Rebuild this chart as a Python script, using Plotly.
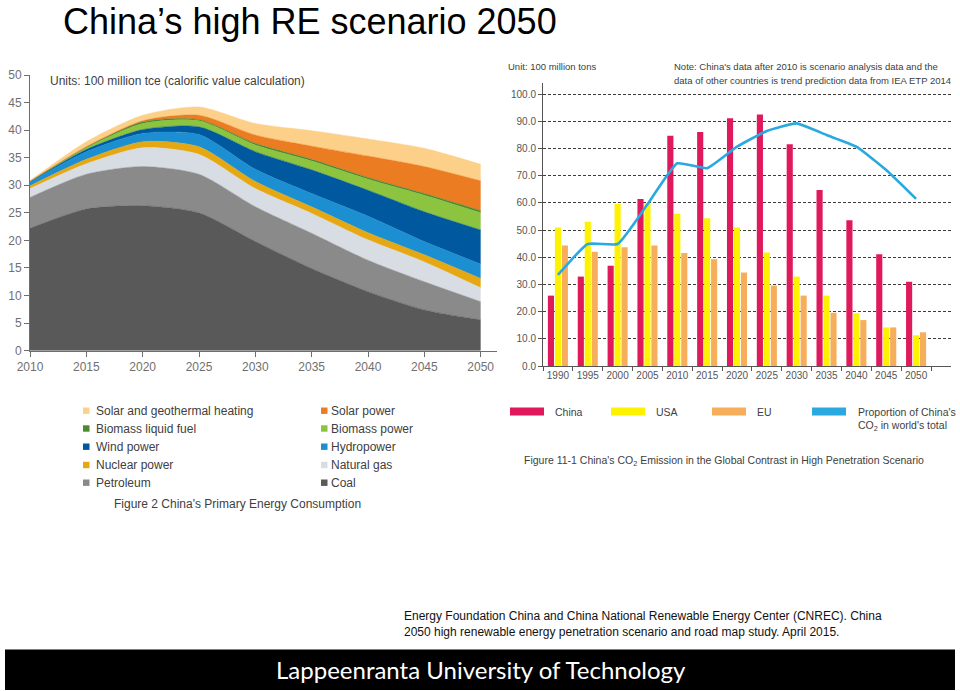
import plotly.graph_objects as go

W, H = 960, 691

# ---------------- Left chart data (100 million tce) ----------------
energy_years = [2010, 2015, 2020, 2025, 2030, 2035, 2040, 2045, 2050]
coal = [22.2, 25.7, 26.3, 25.0, 19.8, 14.9, 10.7, 7.4, 5.6]
petroleum = [5.6, 6.3, 7.1, 7.0, 6.3, 6.4, 5.7, 5.1, 3.3]
natural_gas = [1.6, 1.9, 3.4, 3.6, 3.3, 3.6, 3.7, 3.6, 2.5]
nuclear_power = [0.5, 0.8, 1.1, 1.4, 1.3, 1.2, 1.3, 1.3, 1.7]
hydropower = [0.7, 1.4, 1.5, 2.2, 2.2, 2.4, 3.0, 2.4, 2.6]
wind_power = [0.1, 0.4, 0.7, 1.4, 3.2, 4.3, 4.7, 5.4, 6.2]
biomass_power = [0.05, 0.3, 1.1, 1.1, 1.2, 1.6, 2.0, 3.0, 3.1]
biomass_liquid_fuel = [0.0, 0.1, 0.3, 0.2, 0.3, 0.3, 0.3, 0.3, 0.4]
solar_power = [0.0, 0.1, 0.2, 0.8, 1.5, 2.4, 3.9, 4.9, 5.4]
solar_geothermal_heating = [0.1, 0.9, 1.0, 1.5, 2.1, 2.8, 3.1, 3.3, 3.0]

energy_series = [
    ("Coal", coal, "#595959"),
    ("Petroleum", petroleum, "#8a8a8a"),
    ("Natural gas", natural_gas, "#d8dce3"),
    ("Nuclear power", nuclear_power, "#e5a712"),
    ("Hydropower", hydropower, "#1b8fd2"),
    ("Wind power", wind_power, "#00599e"),
    ("Biomass power", biomass_power, "#8cc43f"),
    ("Biomass liquid fuel", biomass_liquid_fuel, "#4b8a2f"),
    ("Solar power", solar_power, "#ec7c22"),
    ("Solar and geothermal heating", solar_geothermal_heating, "#fcd089"),
]
energy_legend_order = [
    "Solar and geothermal heating", "Solar power",
    "Biomass liquid fuel", "Biomass power",
    "Wind power", "Hydropower",
    "Nuclear power", "Natural gas",
    "Petroleum", "Coal",
]

# ---------------- Right chart data (100 million tons CO2) ----------------
co2_years = ["1990", "1995", "2000", "2005", "2010", "2015", "2020",
             "2025", "2030", "2035", "2040", "2045", "2050"]
china_co2 = [25.9, 32.9, 36.9, 61.5, 84.7, 86.1, 91.2, 92.6, 81.6, 64.8, 53.6, 41.1, 31.0]
usa_co2 = [51.0, 53.1, 59.6, 59.9, 56.0, 54.4, 51.0, 41.8, 32.9, 25.9, 19.4, 14.2, 11.3]
eu_co2 = [44.3, 42.0, 43.7, 44.3, 41.6, 39.3, 34.4, 29.6, 25.9, 19.6, 16.9, 14.2, 12.4]
china_share = [33.5, 44.9, 44.9, 59.5, 74.6, 72.8, 80.7, 86.5, 89.3, 85.0, 80.7, 72.1, 61.5]

co2_series = [("China", china_co2, "#e0185c"),
              ("USA", usa_co2, "#fff200"),
              ("EU", eu_co2, "#f7ae5b")]
share_color = "#29a9e0"


def px(x):
    return x / W


def py(y):
    return 1 - y / H


fig = go.Figure()

# Left stacked areas
for name, vals, col in energy_series:
    fig.add_trace(go.Scatter(
        x=energy_years, y=vals, name=name, mode="lines",
        stackgroup="energy", fillcolor=col,
        line=dict(color=col, width=0.5, shape="spline", smoothing=0.7),
        xaxis="x", yaxis="y", showlegend=False,
    ))

# Right grouped bars
for name, vals, col in co2_series:
    fig.add_trace(go.Bar(
        x=co2_years, y=vals, name=name, marker=dict(color=col, line=dict(width=0)),
        xaxis="x2", yaxis="y2", showlegend=False,
    ))
fig.add_trace(go.Scatter(
    x=co2_years, y=china_share, name="Proportion of China's CO2 in world's total",
    mode="lines", line=dict(color=share_color, width=2.6, shape="spline", smoothing=0.4),
    xaxis="x2", yaxis="y2", showlegend=False,
))

axis_grey = "#6e6e6e"
tick_font = dict(family="Liberation Sans, Arial, sans-serif", size=12, color="#707070")
tick_font2 = dict(family="Liberation Sans, Arial, sans-serif", size=10, color="#555555")

fig.update_layout(
    template="none",
    width=W, height=H, autosize=False,
    margin=dict(l=0, r=0, t=0, b=0, pad=0),
    paper_bgcolor="white", plot_bgcolor="rgba(0,0,0,0)",
    barmode="group", bargap=0.3, bargroupgap=0.12,
    showlegend=False,
    xaxis=dict(
        domain=[px(30), px(497)], range=[2010, 2051.45], anchor="y",
        tickvals=energy_years, ticktext=[str(v) for v in energy_years],
        ticks="outside", ticklen=5, tickcolor=axis_grey, tickangle=0,
        showline=True, linecolor=axis_grey, linewidth=1, automargin=False,
        showgrid=False, zeroline=False, tickfont=tick_font,
    ),
    yaxis=dict(
        domain=[py(350.7), py(75)], range=[0, 50], anchor="x",
        tickvals=list(range(0, 51, 5)),
        ticks="outside", ticklen=5, tickcolor=axis_grey,
        showline=True, linecolor=axis_grey, linewidth=1, automargin=False,
        showgrid=False, zeroline=False, tickfont=tick_font,
    ),
    xaxis2=dict(
        domain=[px(543), px(951)], range=[-0.5, 13.17], anchor="y2",
        type="category", tickson="boundaries", tickangle=0,
        ticks="outside", ticklen=4, tickcolor="#555555",
        showline=True, linecolor="#555555", linewidth=1, automargin=False,
        showgrid=False, zeroline=False, tickfont=tick_font2,
    ),
    yaxis2=dict(
        domain=[py(366), py(83.4)], range=[0, 104], anchor="x2",
        tickvals=list(range(0, 101, 10)), tickformat=".1f",
        ticks="outside", ticklen=4, tickcolor="#555555",
        showline=True, linecolor="#555555", linewidth=1, automargin=False,
        showgrid=True, gridcolor="#3c3c3c", gridwidth=1, griddash="3px,2px",
        zeroline=False, tickfont=tick_font2,
    ),
)

ann = []
shapes = []
base = "Liberation Sans, Arial, sans-serif"

# Title
ann.append(dict(text="China’s high RE scenario 2050", x=px(62), y=1.0,
                xanchor="left", yanchor="top", borderpad=0,
                font=dict(family=base, size=36, color="black")))

# Left chart unit note
ann.append(dict(text="Units: 100 million tce (calorific value calculation)",
                x=px(48), y=py(80.5), xanchor="left", yanchor="middle",
                font=dict(family=base, size=12, color="#404040")))

# Left legend
row_y = [410.7, 428.5, 446.7, 465.0, 482.7]
col_sq_x = [83, 321]
col_tx_x = [94, 329]
colors = {n: c for n, _, c in energy_series}
for i, name in enumerate(energy_legend_order):
    r, c = divmod(i, 2)
    yc = row_y[r]
    shapes.append(dict(type="rect", xref="paper", yref="paper",
                       x0=px(col_sq_x[c]), x1=px(col_sq_x[c] + 6.5),
                       y0=py(yc + 3.2), y1=py(yc - 3.2),
                       fillcolor=colors[name], line=dict(width=0)))
    ann.append(dict(text=name, x=px(col_tx_x[c]), y=py(yc), xanchor="left",
                    yanchor="middle", font=dict(family=base, size=12, color="#404040")))
ann.append(dict(text="Figure 2 China's Primary Energy Consumption",
                x=px(111.5), y=py(504.5), xanchor="left", yanchor="middle",
                font=dict(family=base, size=12, color="#404040")))

# Right chart notes
ann.append(dict(text="Unit: 100 million tons", x=px(506), y=py(66.5),
                xanchor="left", yanchor="middle",
                font=dict(family=base, size=9.5, color="#404040")))
ann.append(dict(text="Note: China's data after 2010 is scenario analysis data and the",
                x=px(671.5), y=py(66.5), xanchor="left", yanchor="middle",
                font=dict(family=base, size=9.5, color="#404040")))
ann.append(dict(text="data of other countries is trend prediction data from IEA ETP 2014",
                x=px(671.5), y=py(80), xanchor="left", yanchor="middle",
                font=dict(family=base, size=9.5, color="#404040")))

# Right legend
leg2 = [("China", co2_series[0][2], 510, 552.5),
        ("USA", co2_series[1][2], 611, 653.5),
        ("EU", co2_series[2][2], 712, 754.5),
        ("Proportion of China's", share_color, 812, 856)]
for name, col, rx, tx in leg2:
    shapes.append(dict(type="rect", xref="paper", yref="paper",
                       x0=px(rx), x1=px(rx + 34), y0=py(415.5), y1=py(407.5),
                       fillcolor=col, line=dict(width=0)))
    ann.append(dict(text=name, x=px(tx), y=py(411.5), xanchor="left", yanchor="middle",
                    font=dict(family=base, size=10.5, color="#404040")))
ann.append(dict(text="CO<sub>2</sub> in world's total", x=px(856), y=py(426),
                xanchor="left", yanchor="middle",
                font=dict(family=base, size=10.5, color="#404040")))
ann.append(dict(text="Figure 11-1 China's CO<sub>2</sub> Emission in the Global Contrast in High Penetration Scenario",
                x=px(521.5), y=py(461), xanchor="left", yanchor="middle",
                font=dict(family=base, size=10.5, color="#404040")))

# Reference text
ann.append(dict(text="Energy Foundation China and China National Renewable Energy Center (CNREC). China",
                x=px(402), y=py(616), xanchor="left", yanchor="middle",
                font=dict(family=base, size=12, color="#111111")))
ann.append(dict(text="2050 high renewable energy penetration scenario and road map study. April 2015.",
                x=px(402), y=py(632), xanchor="left", yanchor="middle",
                font=dict(family=base, size=12, color="#111111")))

# Footer bar
shapes.append(dict(type="rect", xref="paper", yref="paper",
                   x0=px(5), x1=px(955), y0=py(690), y1=py(649.5),
                   fillcolor="black", line=dict(width=0), layer="below"))
ann.append(dict(text="Lappeenranta University of Technology", x=px(480.5), y=py(669),
                xanchor="center", yanchor="middle",
                font=dict(family="Lato, Open Sans, sans-serif", size=24, color="white")))

for a in ann:
    a.setdefault("showarrow", False)
    a.setdefault("xref", "paper")
    a.setdefault("yref", "paper")

fig.update_layout(annotations=ann, shapes=shapes)
fig.write_html(
    "out.html",
    config={"displayModeBar": False},
    post_script="document.body.style.margin='0';document.body.style.padding='0';"
                "document.documentElement.style.overflow='hidden';",
)
